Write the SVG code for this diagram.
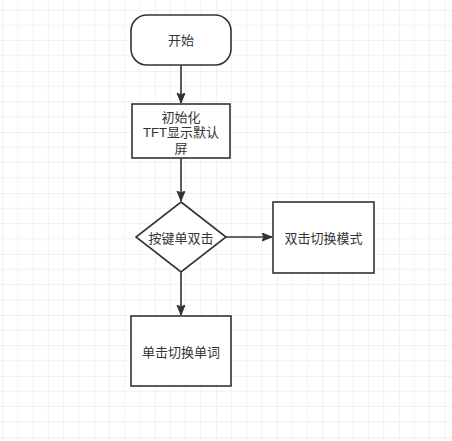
<svg xmlns="http://www.w3.org/2000/svg" width="452" height="441" viewBox="0 0 452 441">
<defs>
<pattern id="grid" x="33" y="10" width="61" height="61" patternUnits="userSpaceOnUse">
<path d="M15.25 0V61M30.5 0V61M45.75 0V61M0 15.25H61M0 30.5H61M0 45.75H61" stroke="#f2f2f2" stroke-width="1" fill="none"/>
<path d="M0 0V61M0 0H61" stroke="#e4e4e4" stroke-width="1" fill="none"/>
</pattern>
<marker id="arrow" markerUnits="userSpaceOnUse" markerWidth="12" markerHeight="10" refX="10" refY="4" orient="auto">
<path d="M0,0 L10,4 L0,8 L2,4 Z" fill="#333" stroke="#333" stroke-width="1"/>
</marker>
</defs>
<style>
.shape{fill:#ffffff;stroke:#333333;stroke-width:1.6}
.edge{fill:none;stroke:#333333;stroke-width:1.6;marker-end:url(#arrow)}
text{font-family:"Liberation Sans","Noto Sans CJK SC",sans-serif;font-size:13px;fill:#333333;text-anchor:middle;dominant-baseline:central}
</style>
<rect width="452" height="441" fill="#ffffff"/>
<rect width="452" height="441" fill="url(#grid)"/>
<g id="connectors">
<path class="edge" d="M181 65V103"/>
<path class="edge" d="M181 158V201"/>
<path class="edge" d="M226 237H272"/>
<path class="edge" d="M181 272V315"/>
</g>
<g id="start">
<rect class="shape" x="131" y="15" width="100" height="50" rx="16" ry="16"/>
<text x="181" y="40">开始</text>
</g>
<g id="init">
<rect class="shape" x="132" y="104" width="98" height="54"/>
<text x="181" y="117">初始化</text>
<text x="181" y="132.5">TFT显示默认</text>
<text x="181" y="148">屏</text>
</g>
<g id="decision">
<polygon class="shape" points="181,202 226,237 181,272 136,237"/>
<text x="181" y="238">按键单双击</text>
</g>
<g id="double">
<rect class="shape" x="273" y="202" width="101" height="71"/>
<text x="323.5" y="238">双击切换模式</text>
</g>
<g id="single">
<rect class="shape" x="131" y="316" width="100" height="70"/>
<text x="181" y="352">单击切换单词</text>
</g>
</svg>
